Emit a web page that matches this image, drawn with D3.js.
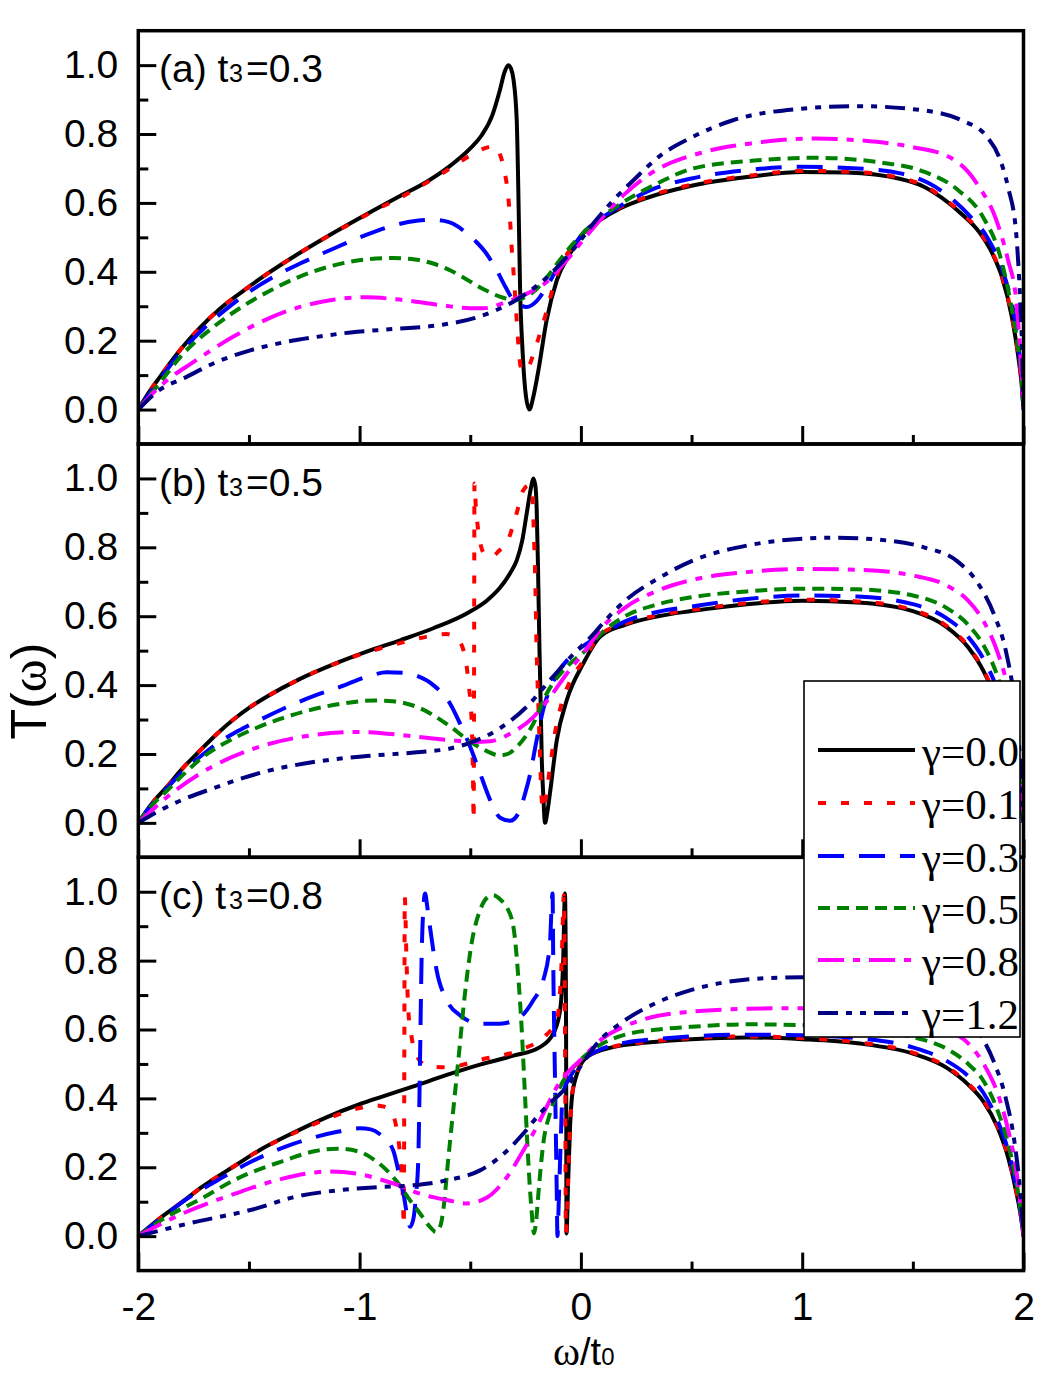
<!DOCTYPE html>
<html><head><meta charset="utf-8">
<script src="https://cdn.jsdelivr.net/npm/d3@7"></script>
<style>body{margin:0;background:#fff}</style>
</head><body>
<svg id="chart" width="1053" height="1377"></svg>
<script>
// ---------- labels / ticks ----------
const seriesNames = ["γ=0.0","γ=0.1","γ=0.3","γ=0.5","γ=0.8","γ=1.2"];
const panelNames = [["(a) t","3","=0.3"],["(b) t","3","=0.5"],["(c) t","3","=0.8"]];
const xMajor = [-2,-1,0,1,2];
const xMinor = [-1.5,-0.5,0.5,1.5];
const yMajor = [0,0.2,0.4,0.6,0.8,1.0];
const yMinor = [0.1,0.3,0.5,0.7,0.9];

// ---------- panel (a) t3=0.3 ----------
const a_g00 = [[-2,0],[-1.95,0.052],[-1.902,0.095],[-1.812,0.172],[-1.721,0.238],[-1.631,0.293],[-1.51,0.352],[-1.42,0.393],[-1.3,0.443],[-1.179,0.49],[-1.058,0.535],[-0.938,0.578],[-0.817,0.62],[-0.7,0.66],[-0.6,0.703],[-0.5,0.758],[-0.45,0.795],[-0.4,0.855],[-0.365,0.93],[-0.345,0.98],[-0.328,1.0],[-0.316,0.99],[-0.305,0.96],[-0.29,0.84],[-0.283,0.646],[-0.275,0.356],[-0.263,0.163],[-0.248,0.037],[-0.233,0.0],[-0.215,0.037],[-0.192,0.114],[-0.155,0.259],[-0.109,0.375],[-0.049,0.453],[0.01,0.512],[0.086,0.55],[0.177,0.584],[0.3,0.615],[0.5,0.65],[0.75,0.675],[1.0,0.69],[1.2,0.688],[1.44,0.67],[1.55,0.647],[1.63,0.615],[1.72,0.568],[1.8,0.515],[1.86,0.452],[1.9,0.39],[1.947,0.27],[1.975,0.16],[1.992,0.07],[2,0]];
const a_g01 = [[-2,0],[-1.95,0.052],[-1.902,0.095],[-1.812,0.172],[-1.721,0.238],[-1.631,0.293],[-1.51,0.352],[-1.42,0.393],[-1.3,0.443],[-1.179,0.49],[-1.058,0.534],[-0.938,0.576],[-0.817,0.615],[-0.742,0.642],[-0.611,0.692],[-0.488,0.742],[-0.43,0.76],[-0.39,0.765],[-0.365,0.74],[-0.343,0.685],[-0.328,0.617],[-0.32,0.55],[-0.313,0.472],[-0.305,0.404],[-0.298,0.337],[-0.29,0.259],[-0.283,0.192],[-0.275,0.135],[-0.265,0.112],[-0.24,0.12],[-0.215,0.16],[-0.185,0.221],[-0.155,0.285],[-0.117,0.375],[-0.08,0.434],[-0.04,0.47],[0.01,0.512],[0.086,0.552],[0.177,0.587],[0.3,0.618],[0.5,0.653],[0.75,0.678],[1.0,0.693],[1.2,0.691],[1.44,0.673],[1.55,0.65],[1.63,0.618],[1.72,0.571],[1.8,0.518],[1.86,0.455],[1.9,0.393],[1.947,0.273],[1.975,0.163],[1.992,0.072],[2,0]];
const a_g03 = [[-2,0],[-1.9,0.09],[-1.812,0.163],[-1.692,0.243],[-1.6,0.293],[-1.525,0.33],[-1.4,0.381],[-1.269,0.424],[-1.119,0.467],[-0.968,0.508],[-0.833,0.537],[-0.742,0.548],[-0.677,0.551],[-0.6,0.545],[-0.555,0.531],[-0.516,0.511],[-0.47,0.485],[-0.433,0.458],[-0.38,0.404],[-0.34,0.355],[-0.305,0.317],[-0.27,0.302],[-0.245,0.298],[-0.2,0.315],[-0.155,0.356],[-0.094,0.424],[-0.04,0.47],[0.01,0.512],[0.08,0.55],[0.15,0.58],[0.314,0.637],[0.5,0.671],[0.75,0.695],[0.99,0.705],[1.253,0.70],[1.45,0.685],[1.573,0.657],[1.68,0.61],[1.76,0.56],[1.835,0.501],[1.91,0.395],[1.95,0.3],[1.975,0.2],[1.99,0.1],[2,0]];
const a_g05 = [[-2,0],[-1.9,0.08],[-1.8,0.16],[-1.66,0.24],[-1.54,0.295],[-1.42,0.34],[-1.27,0.386],[-1.12,0.418],[-0.97,0.436],[-0.85,0.44],[-0.75,0.436],[-0.668,0.424],[-0.6,0.407],[-0.535,0.385],[-0.442,0.35],[-0.347,0.324],[-0.3,0.318],[-0.253,0.326],[-0.2,0.35],[-0.159,0.38],[-0.1,0.43],[-0.04,0.478],[0.01,0.512],[0.086,0.556],[0.15,0.585],[0.35,0.658],[0.5,0.699],[0.783,0.723],[1.063,0.731],[1.347,0.718],[1.553,0.69],[1.705,0.637],[1.817,0.559],[1.891,0.453],[1.94,0.317],[1.977,0.172],[1.993,0.08],[2,0]];
const a_g08 = [[-2,0],[-1.93,0.05],[-1.87,0.085],[-1.765,0.132],[-1.57,0.212],[-1.42,0.262],[-1.269,0.298],[-1.119,0.319],[-0.968,0.326],[-0.833,0.32],[-0.63,0.303],[-0.497,0.294],[-0.442,0.294],[-0.347,0.31],[-0.253,0.334],[-0.159,0.368],[-0.065,0.433],[0.01,0.492],[0.086,0.55],[0.2,0.627],[0.314,0.685],[0.557,0.748],[0.783,0.774],[1.063,0.787],[1.253,0.782],[1.498,0.762],[1.665,0.733],[1.75,0.69],[1.8,0.646],[1.872,0.559],[1.93,0.434],[1.967,0.317],[1.985,0.172],[2,0]];
const a_g12 = [[-2,0],[-1.917,0.051],[-1.782,0.095],[-1.646,0.138],[-1.494,0.172],[-1.344,0.195],[-1.193,0.211],[-1.04,0.224],[-0.845,0.234],[-0.63,0.246],[-0.478,0.266],[-0.385,0.288],[-0.3,0.315],[-0.253,0.334],[-0.14,0.392],[-0.028,0.47],[0.066,0.548],[0.16,0.617],[0.236,0.665],[0.35,0.733],[0.5,0.79],[0.687,0.84],[0.967,0.872],[1.25,0.881],[1.53,0.87],[1.72,0.84],[1.835,0.792],[1.89,0.733],[1.93,0.646],[1.967,0.511],[1.985,0.317],[1.995,0.15],[2,0]];

// ---------- panel (b) t3=0.5 ----------
const b_g00 = [[-2,0],[-1.94,0.055],[-1.872,0.104],[-1.8,0.158],[-1.721,0.21],[-1.645,0.258],[-1.57,0.3],[-1.495,0.336],[-1.42,0.366],[-1.269,0.418],[-1.119,0.46],[-0.968,0.497],[-0.817,0.53],[-0.667,0.565],[-0.516,0.608],[-0.42,0.648],[-0.365,0.683],[-0.32,0.725],[-0.29,0.762],[-0.265,0.82],[-0.245,0.898],[-0.225,0.975],[-0.215,1.0],[-0.206,0.98],[-0.2,0.917],[-0.194,0.75],[-0.188,0.53],[-0.182,0.35],[-0.177,0.191],[-0.17,0.08],[-0.162,0.0],[-0.152,0.03],[-0.14,0.085],[-0.109,0.24],[-0.064,0.356],[0.011,0.463],[0.086,0.54],[0.2,0.575],[0.35,0.6],[0.5,0.615],[0.75,0.635],[1.0,0.645],[1.25,0.64],[1.5,0.615],[1.65,0.57],[1.75,0.51],[1.82,0.44],[1.88,0.35],[1.93,0.24],[1.97,0.13],[1.99,0.05],[2,0]];
const b_g01 = [[-2,0],[-1.94,0.055],[-1.872,0.104],[-1.8,0.158],[-1.721,0.21],[-1.645,0.258],[-1.57,0.3],[-1.495,0.336],[-1.42,0.366],[-1.269,0.418],[-1.119,0.46],[-0.968,0.495],[-0.817,0.522],[-0.7,0.54],[-0.607,0.548],[-0.56,0.535],[-0.53,0.5],[-0.516,0.453],[-0.505,0.39],[-0.494,0.3],[-0.488,0.15],[-0.4845,0.008],[-0.4825,0.5],[-0.481,0.985],[-0.475,0.92],[-0.465,0.855],[-0.45,0.8],[-0.435,0.78],[-0.405,0.772],[-0.37,0.79],[-0.33,0.82],[-0.29,0.9],[-0.26,0.966],[-0.235,0.98],[-0.222,0.975],[-0.213,0.85],[-0.207,0.724],[-0.2,0.5],[-0.192,0.337],[-0.185,0.2],[-0.177,0.066],[-0.17,0.037],[-0.16,0.07],[-0.14,0.16],[-0.12,0.25],[-0.09,0.34],[-0.05,0.41],[0.011,0.47],[0.086,0.545],[0.2,0.578],[0.35,0.603],[0.5,0.618],[0.75,0.638],[1.0,0.648],[1.25,0.643],[1.5,0.618],[1.65,0.573],[1.75,0.513],[1.82,0.443],[1.88,0.353],[1.93,0.243],[1.97,0.133],[1.99,0.05],[2,0]];
const b_g03 = [[-2,0],[-1.94,0.053],[-1.872,0.1],[-1.8,0.148],[-1.721,0.192],[-1.64,0.232],[-1.56,0.263],[-1.494,0.285],[-1.35,0.33],[-1.2,0.37],[-1.088,0.395],[-0.95,0.428],[-0.877,0.437],[-0.8,0.436],[-0.742,0.427],[-0.667,0.4],[-0.591,0.346],[-0.546,0.288],[-0.5,0.22],[-0.455,0.143],[-0.41,0.066],[-0.365,0.015],[-0.32,0.006],[-0.283,0.027],[-0.25,0.09],[-0.23,0.14],[-0.2,0.24],[-0.17,0.33],[-0.109,0.43],[-0.034,0.49],[0.05,0.53],[0.1,0.55],[0.2,0.585],[0.35,0.613],[0.5,0.628],[0.75,0.65],[1.0,0.66],[1.25,0.657],[1.5,0.635],[1.65,0.595],[1.75,0.54],[1.82,0.475],[1.88,0.39],[1.93,0.28],[1.97,0.16],[1.99,0.07],[2,0]];
const b_g05 = [[-2,0],[-1.94,0.05],[-1.872,0.092],[-1.797,0.14],[-1.7,0.195],[-1.57,0.245],[-1.45,0.28],[-1.344,0.305],[-1.119,0.342],[-0.938,0.355],[-0.85,0.353],[-0.742,0.337],[-0.591,0.28],[-0.516,0.243],[-0.44,0.213],[-0.365,0.196],[-0.33,0.2],[-0.29,0.22],[-0.215,0.288],[-0.155,0.375],[-0.064,0.453],[0.02,0.5],[0.1,0.555],[0.2,0.6],[0.35,0.635],[0.5,0.655],[0.75,0.672],[1.0,0.68],[1.25,0.678],[1.5,0.66],[1.65,0.625],[1.75,0.575],[1.82,0.515],[1.88,0.43],[1.93,0.32],[1.97,0.19],[1.99,0.08],[2,0]];
const b_g08 = [[-2,0],[-1.87,0.075],[-1.721,0.143],[-1.494,0.212],[-1.269,0.249],[-1.0,0.264],[-0.742,0.25],[-0.591,0.24],[-0.486,0.235],[-0.41,0.237],[-0.32,0.259],[-0.215,0.307],[-0.14,0.365],[-0.064,0.433],[0.02,0.5],[0.1,0.57],[0.2,0.625],[0.35,0.675],[0.5,0.705],[0.75,0.728],[1.0,0.737],[1.25,0.735],[1.5,0.718],[1.65,0.69],[1.75,0.645],[1.82,0.585],[1.88,0.5],[1.93,0.39],[1.97,0.24],[1.99,0.1],[2,0]];
const b_g12 = [[-2,0],[-1.872,0.046],[-1.646,0.104],[-1.42,0.15],[-1.193,0.178],[-0.968,0.194],[-0.742,0.205],[-0.591,0.216],[-0.486,0.236],[-0.365,0.275],[-0.245,0.337],[-0.14,0.414],[-0.034,0.49],[0.06,0.55],[0.1,0.58],[0.2,0.645],[0.35,0.71],[0.5,0.76],[0.75,0.805],[1.0,0.825],[1.15,0.828],[1.35,0.822],[1.55,0.8],[1.7,0.76],[1.8,0.69],[1.87,0.6],[1.92,0.5],[1.96,0.35],[1.985,0.18],[2,0]];

// ---------- panel (c) t3=0.8 ----------
const c_g00 = [[-2,0],[-1.894,0.056],[-1.8,0.1],[-1.712,0.143],[-1.56,0.206],[-1.454,0.249],[-1.3,0.3],[-1.15,0.345],[-1.0,0.383],[-0.908,0.403],[-0.757,0.435],[-0.606,0.468],[-0.456,0.498],[-0.305,0.524],[-0.185,0.549],[-0.125,0.588],[-0.094,0.656],[-0.08,0.80],[-0.072,0.995],[-0.069,0.85],[-0.067,0.607],[-0.066,0.3],[-0.065,0.008],[-0.058,0.15],[-0.049,0.317],[-0.034,0.433],[0.026,0.52],[0.146,0.549],[0.3,0.562],[0.5,0.572],[0.75,0.577],[1.0,0.572],[1.25,0.56],[1.5,0.53],[1.65,0.49],[1.75,0.44],[1.82,0.39],[1.88,0.32],[1.93,0.23],[1.97,0.12],[1.99,0.05],[2,0]];
const c_g01 = [[-2,0],[-1.894,0.056],[-1.8,0.1],[-1.712,0.143],[-1.56,0.206],[-1.454,0.249],[-1.3,0.298],[-1.15,0.34],[-1.0,0.372],[-0.93,0.38],[-0.89,0.376],[-0.86,0.362],[-0.835,0.32],[-0.815,0.22],[-0.805,0.12],[-0.8,0.03],[-0.798,0.5],[-0.796,0.985],[-0.788,0.8],[-0.78,0.656],[-0.765,0.578],[-0.75,0.535],[-0.697,0.495],[-0.606,0.49],[-0.456,0.512],[-0.275,0.541],[-0.155,0.585],[-0.109,0.627],[-0.087,0.8],[-0.077,0.99],[-0.073,0.75],[-0.07,0.3],[-0.068,0.01],[-0.058,0.16],[-0.049,0.32],[-0.034,0.435],[0.026,0.52],[0.146,0.55],[0.3,0.564],[0.5,0.575],[0.75,0.58],[1.0,0.575],[1.25,0.563],[1.5,0.533],[1.65,0.493],[1.75,0.443],[1.82,0.393],[1.88,0.323],[1.93,0.233],[1.97,0.123],[1.99,0.05],[2,0]];
const c_g03 = [[-2,0],[-1.9,0.05],[-1.803,0.098],[-1.621,0.17],[-1.5,0.213],[-1.3,0.268],[-1.1,0.303],[-1.0,0.313],[-0.95,0.31],[-0.908,0.296],[-0.848,0.249],[-0.825,0.19],[-0.802,0.124],[-0.785,0.06],[-0.772,0.027],[-0.757,0.05],[-0.745,0.12],[-0.735,0.22],[-0.727,0.51],[-0.72,0.80],[-0.712,0.95],[-0.704,0.995],[-0.695,0.96],[-0.682,0.898],[-0.652,0.772],[-0.606,0.685],[-0.546,0.641],[-0.456,0.617],[-0.365,0.617],[-0.275,0.636],[-0.215,0.685],[-0.17,0.743],[-0.14,0.85],[-0.128,0.995],[-0.125,0.8],[-0.116,0.414],[-0.109,0.124],[-0.106,0.0],[-0.1,0.1],[-0.094,0.22],[-0.082,0.414],[-0.049,0.462],[0.0,0.505],[0.1,0.545],[0.2,0.562],[0.35,0.573],[0.5,0.58],[0.75,0.585],[1.0,0.583],[1.25,0.575],[1.5,0.548],[1.65,0.51],[1.75,0.465],[1.82,0.415],[1.88,0.34],[1.93,0.25],[1.97,0.135],[1.99,0.055],[2,0]];
const c_g05 = [[-2,0],[-1.9,0.045],[-1.712,0.11],[-1.56,0.165],[-1.347,0.218],[-1.2,0.247],[-1.1,0.254],[-1.0,0.245],[-0.93,0.22],[-0.88,0.193],[-0.83,0.157],[-0.772,0.104],[-0.727,0.066],[-0.682,0.027],[-0.655,0.012],[-0.635,0.03],[-0.622,0.075],[-0.6,0.22],[-0.577,0.365],[-0.554,0.51],[-0.524,0.704],[-0.494,0.85],[-0.456,0.946],[-0.42,0.985],[-0.396,0.99],[-0.36,0.975],[-0.336,0.956],[-0.305,0.898],[-0.283,0.753],[-0.268,0.607],[-0.253,0.414],[-0.238,0.22],[-0.223,0.075],[-0.212,0.008],[-0.2,0.06],[-0.192,0.124],[-0.17,0.269],[-0.14,0.356],[-0.094,0.433],[-0.004,0.51],[0.1,0.56],[0.2,0.585],[0.35,0.6],[0.5,0.608],[0.75,0.615],[1.0,0.613],[1.25,0.603],[1.5,0.578],[1.65,0.545],[1.75,0.5],[1.82,0.45],[1.88,0.37],[1.93,0.27],[1.97,0.15],[1.99,0.06],[2,0]];
const c_g08 = [[-2,0],[-1.833,0.056],[-1.56,0.124],[-1.347,0.167],[-1.2,0.185],[-1.135,0.188],[-1.0,0.18],[-0.908,0.165],[-0.8,0.142],[-0.757,0.13],[-0.606,0.105],[-0.516,0.095],[-0.425,0.112],[-0.336,0.17],[-0.26,0.249],[-0.2,0.317],[-0.155,0.375],[-0.109,0.433],[-0.064,0.472],[-0.004,0.51],[0.1,0.575],[0.2,0.61],[0.35,0.64],[0.5,0.652],[0.75,0.66],[1.0,0.662],[1.25,0.655],[1.5,0.63],[1.65,0.6],[1.75,0.56],[1.82,0.5],[1.88,0.42],[1.93,0.31],[1.97,0.18],[1.99,0.07],[2,0]];
const c_g12 = [[-2,0],[-1.772,0.037],[-1.469,0.08],[-1.305,0.112],[-1.1,0.133],[-0.923,0.142],[-0.757,0.148],[-0.606,0.162],[-0.456,0.191],[-0.365,0.23],[-0.26,0.298],[-0.185,0.356],[-0.125,0.395],[-0.064,0.433],[-0.004,0.491],[0.086,0.569],[0.177,0.617],[0.35,0.68],[0.5,0.715],[0.75,0.745],[1.0,0.752],[1.25,0.748],[1.45,0.73],[1.6,0.7],[1.72,0.65],[1.8,0.59],[1.87,0.5],[1.92,0.4],[1.96,0.27],[1.985,0.13],[2,0]];

// ---------- styles ----------
const seriesColors = ["#000000","#ff0000","#0000ff","#008000","#ff00ff","#000080"];
const seriesDash = [null,"8,15","26,15","12,7","26,9,7,9","20,8,6,8,6,8"];
const seriesWidth = [4,4,4,4,4,4];

const panels = [
  {data:[a_g00,a_g01,a_g03,a_g05,a_g08,a_g12], name:panelNames[0]},
  {data:[b_g00,b_g01,b_g03,b_g05,b_g08,b_g12], name:panelNames[1]},
  {data:[c_g00,c_g01,c_g03,c_g05,c_g08,c_g12], name:panelNames[2]}
];

const svg = d3.select("#chart");
const left = 138.3, right = 1023.5, top0 = 30.7, ph = 413.3;
const x = d3.scaleLinear().domain([-2,2]).range([left,right]);
const sans = "'Liberation Sans', Arial, sans-serif";
const serif = "'Liberation Serif', 'Times New Roman', serif";

panels.forEach((p,i)=>{
  const top = top0 + i*ph, bottom = top + ph;
  const y = d3.scaleLinear().domain([-0.1,1.1]).range([bottom, top]);
  const g = svg.append("g");
  const cid = "clip"+i;
  svg.append("clipPath").attr("id",cid).append("rect")
     .attr("x",left).attr("y",top).attr("width",right-left).attr("height",ph);
  const line = d3.line().x(d=>x(d[0])).y(d=>y(d[1])).curve(d3.curveMonotoneX);
  const lg = g.append("g").attr("clip-path",`url(#${cid})`);
  p.data.forEach((arr,k)=>{
    lg.append("path").datum(arr).attr("d",line)
      .attr("fill","none").attr("stroke",seriesColors[k])
      .attr("stroke-width",seriesWidth[k])
      .attr("stroke-dasharray",seriesDash[k])
      .attr("stroke-linejoin","round");
  });
  // axes
  const yAx = g.append("g").attr("transform",`translate(${left},0)`)
    .call(d3.axisLeft(y).tickValues(yMajor).tickSize(-18).tickPadding(20).tickFormat(d3.format(".1f")));
  const yAxm = g.append("g").attr("transform",`translate(${left},0)`)
    .call(d3.axisLeft(y).tickValues(yMinor).tickSize(-10).tickFormat(""));
  const xAx = g.append("g").attr("transform",`translate(0,${bottom})`)
    .call(d3.axisBottom(x).tickValues(xMajor).tickSize(-18).tickPadding(22)
      .tickFormat(i===2 ? (d=>String(d)) : ""));
  const xAxm = g.append("g").attr("transform",`translate(0,${bottom})`)
    .call(d3.axisBottom(x).tickValues(xMinor).tickSize(-9).tickFormat(""));
  [yAx,yAxm,xAx,xAxm].forEach(a=>{
    a.select(".domain").remove();
    a.selectAll(".tick line").attr("stroke","#000").attr("stroke-width",3);
    a.selectAll("text").attr("font-family",sans).attr("font-size",39).attr("fill","#000");
  });
  g.append("rect").attr("x",left).attr("y",top).attr("width",right-left).attr("height",ph)
   .attr("fill","none").attr("stroke","#000").attr("stroke-width",3.5);
  // panel label
  const by = top + 51.5;
  const t = g.append("text").attr("font-family",sans).attr("fill","#000");
  t.append("tspan").attr("x",159).attr("y",by).attr("font-size",39).text(p.name[0]);
  t.append("tspan").attr("x",229).attr("y",by).attr("font-size",25).text(p.name[1]);
  t.append("tspan").attr("x",246).attr("y",by).attr("font-size",39).text(p.name[2]);
});

// axis titles
const yl = svg.append("text").attr("transform","translate(46,691) rotate(-90)")
  .attr("text-anchor","middle").attr("font-family",sans).attr("font-size",50).attr("fill","#000");
yl.append("tspan").text("T(");
yl.append("tspan").attr("font-family",serif).text("ω");
yl.append("tspan").text(")");

const xl = svg.append("text").attr("x",553).attr("y",1365)
  .attr("font-family",sans).attr("font-size",38).attr("fill","#000");
xl.append("tspan").attr("font-family",serif).attr("font-size",41).text("ω");
xl.append("tspan").text("/t");
xl.append("tspan").attr("font-size",24).text("0");

// legend
const lgX = 804, lgY = 681, lgW = 216, lgH = 356;
const leg = svg.append("g");
leg.append("rect").attr("x",lgX).attr("y",lgY).attr("width",lgW).attr("height",lgH)
  .attr("fill","#fff").attr("stroke","#000").attr("stroke-width",1.6);
const legRows = [750,803,856,908,960,1013];
seriesNames.forEach((nm,k)=>{
  leg.append("line").attr("x1",818).attr("x2",915).attr("y1",legRows[k]).attr("y2",legRows[k])
    .attr("stroke",seriesColors[k]).attr("stroke-width",seriesWidth[k])
    .attr("stroke-dasharray",seriesDash[k]);
  leg.append("text").attr("x",922).attr("y",legRows[k]+16)
    .attr("font-family",serif).attr("font-size",43).attr("fill","#000").text(nm);
});
</script>
</body></html>
